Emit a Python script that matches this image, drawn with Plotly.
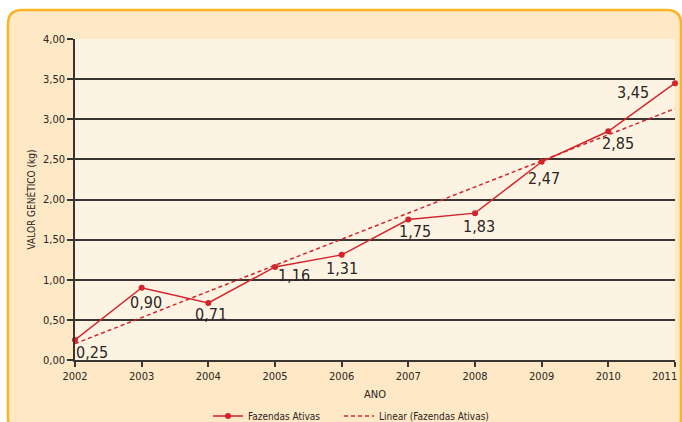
import numpy as np
import plotly.graph_objects as go

# ---- data ----
years = [2002, 2003, 2004, 2005, 2006, 2007, 2008, 2009, 2010, 2011]
valores = [0.25, 0.90, 0.71, 1.16, 1.31, 1.75, 1.83, 2.47, 2.85, 3.45]
x_ticklabels = ["2002", "2003", "2004", "2005", "2006", "2007", "2008", "2009", "2010", "2011"]
y_ticks = [0, 0.5, 1, 1.5, 2, 2.5, 3, 3.5, 4]
y_ticklabels = ["0,00", "0,50", "1,00", "1,50", "2,00", "2,50", "3,00", "3,50", "4,00"]
serie_nome = "Fazendas Ativas"
trend_nome = "Linear (Fazendas Ativas)"

# ---- style ----
RED = "#D3242C"
TXT = "#2a2623"
GRID = "#3a3532"
FONT = "DejaVu Sans Condensed, Liberation Sans Narrow, Arial Narrow, sans-serif"
W, H = 682, 422
L, R, T, B = 75, 7, 39, 62
PW, PH = W - L - R, H - T - B

# label offsets in pixels (style only)
label_offsets = [(17, -13), (4, -15), (3, -11), (19, -9), (0, -14),
                 (7, -12), (4, -13), (2, -17), (10, -12), (-42, -9)]

# linear trend (least squares) from the data
coef = np.polyfit(np.array(years, dtype=float), np.array(valores), 1)
trend_y = np.polyval(coef, np.array(years, dtype=float))

fig = go.Figure()
fig.add_trace(go.Scatter(
    x=years, y=valores, mode="lines+markers", name=serie_nome,
    line=dict(color=RED, width=1.5), marker=dict(color=RED, size=6),
    cliponaxis=False, legend="legend",
))
fig.add_trace(go.Scatter(
    x=years, y=trend_y, mode="lines", name=trend_nome,
    line=dict(color=RED, width=1.5, dash="4px,3px"),
    cliponaxis=False, legend="legend2",
))

for x, v, (dx, dy) in zip(years, valores, label_offsets):
    fig.add_annotation(
        x=x, y=v, xref="x", yref="y", showarrow=False,
        text=f"{v:.2f}".replace(".", ","),
        xshift=dx, yshift=dy,
        font=dict(family=FONT, size=16, color=TXT),
    )

# last x tick label kept inside the page (as in the reference)
fig.add_annotation(
    x=years[-1], y=0, xref="x", yref="paper", showarrow=False,
    text=x_ticklabels[-1], xanchor="right", yanchor="top", xshift=4, yshift=-8,
    font=dict(family=FONT, size=11, color=TXT),
)

def px(p):
    return (p - L) / PW

def py(p):
    return (T + PH - p) / PH

# rounded background panel
x0, x1, y0, y1, r = 8, 681, 10, 432, 14
path = (
    f"M {px(x0)},{py(y0 + r)} "
    f"Q {px(x0)},{py(y0)} {px(x0 + r)},{py(y0)} "
    f"L {px(x1 - r)},{py(y0)} "
    f"Q {px(x1)},{py(y0)} {px(x1)},{py(y0 + r)} "
    f"L {px(x1)},{py(y1 - r)} "
    f"Q {px(x1)},{py(y1)} {px(x1 - r)},{py(y1)} "
    f"L {px(x0 + r)},{py(y1)} "
    f"Q {px(x0)},{py(y1)} {px(x0)},{py(y1 - r)} Z"
)
fig.add_shape(type="path", path=path, xref="paper", yref="paper",
              fillcolor="#FEE8C6", line=dict(color="#FBB523", width=2.5),
              layer="below")
fig.add_shape(type="rect", xref="paper", yref="paper", x0=0, x1=1, y0=0, y1=1,
              fillcolor="#FDF3E2", line=dict(width=0), layer="below")

legend_common = dict(orientation="h", xref="container", yref="container",
                     xanchor="left", y=1 - 416 / H, yanchor="middle",
                     font=dict(family=FONT, size=10, color=TXT),
                     bgcolor="rgba(0,0,0,0)", itemwidth=30)

fig.update_layout(
    width=W, height=H,
    margin=dict(l=L, r=R, t=T, b=B, autoexpand=False),
    paper_bgcolor="white",
    plot_bgcolor="rgba(0,0,0,0)",
    font=dict(family=FONT, color=TXT),
    showlegend=True,
    legend=dict(x=208 / W, **legend_common),
    legend2=dict(x=339 / W, **legend_common),
    xaxis=dict(
        range=[2002, 2011], tickmode="array", tickvals=years,
        ticktext=x_ticklabels[:-1] + [""], automargin=False,
        showgrid=False, zeroline=False,
        showline=True, linecolor=GRID, linewidth=1.5,
        ticks="outside", ticklen=5, tickwidth=1.5, tickcolor=GRID,
        tickfont=dict(family=FONT, size=11, color=TXT),
        title=dict(text="ANO", font=dict(family=FONT, size=11, color=TXT), standoff=14),
    ),
    yaxis=dict(
        range=[0, 4], tickmode="array", tickvals=y_ticks, ticktext=y_ticklabels,
        automargin=False,
        showgrid=True, gridcolor=GRID, gridwidth=1.5, zeroline=False,
        showline=True, linecolor=GRID, linewidth=1.5,
        ticks="outside", ticklen=6, tickwidth=1.5, tickcolor=GRID,
        tickfont=dict(family=FONT, size=11, color=TXT),
        title=dict(text="VALOR GENÉTICO (kg)", font=dict(family=FONT, size=10, color=TXT),
                   standoff=6),
    ),
)

fig.write_html("out.html", config={"displayModeBar": False},
               post_script="document.body.style.margin='0';document.body.style.overflow='hidden';")
